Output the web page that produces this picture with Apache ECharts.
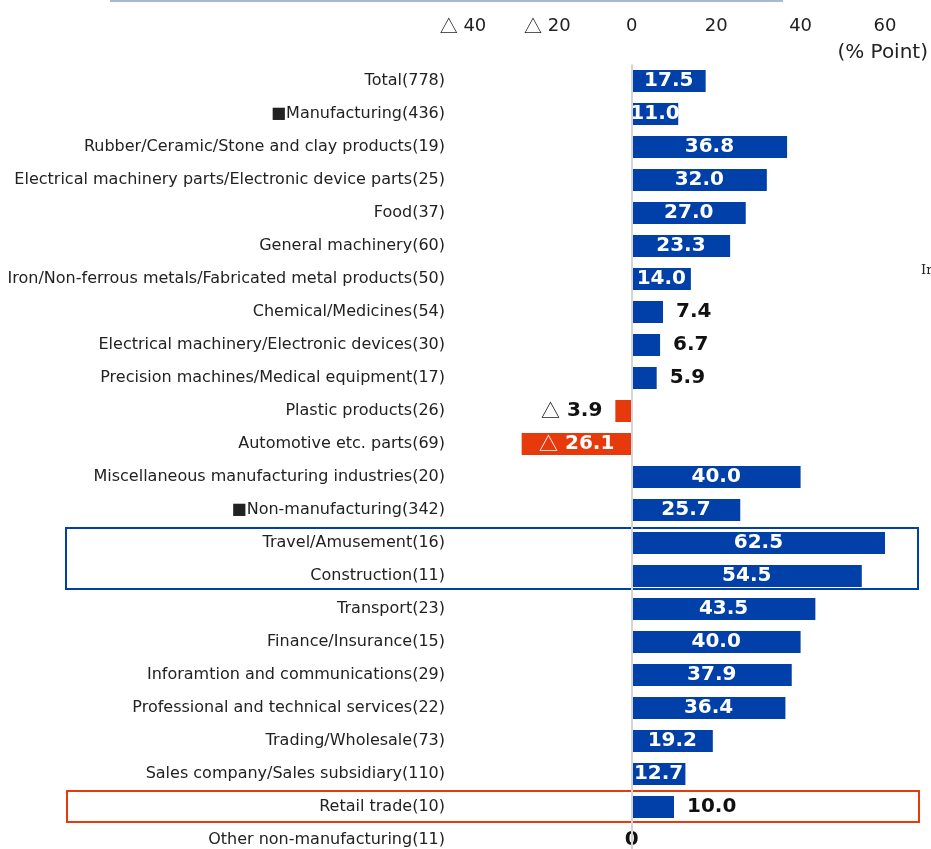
<!DOCTYPE html>
<html>
<head>
<meta charset="utf-8">
<script src="https://cdn.jsdelivr.net/npm/echarts@6/dist/echarts.min.js"></script>
<style>
  html, body { margin: 0; padding: 0; background: #fff; }
  #chart { width: 931px; height: 849px; }
</style>
</head>
<body>
<div id="chart"></div>
<script>
const categories = [
  'Total(778)',
  '■Manufacturing(436)',
  'Rubber/Ceramic/Stone and clay products(19)',
  'Electrical machinery parts/Electronic device parts(25)',
  'Food(37)',
  'General machinery(60)',
  'Iron/Non-ferrous metals/Fabricated metal products(50)',
  'Chemical/Medicines(54)',
  'Electrical machinery/Electronic devices(30)',
  'Precision machines/Medical equipment(17)',
  'Plastic products(26)',
  'Automotive etc. parts(69)',
  'Miscellaneous manufacturing industries(20)',
  '■Non-manufacturing(342)',
  'Travel/Amusement(16)',
  'Construction(11)',
  'Transport(23)',
  'Finance/Insurance(15)',
  'Inforamtion and communications(29)',
  'Professional and technical services(22)',
  'Trading/Wholesale(73)',
  'Sales company/Sales subsidiary(110)',
  'Retail trade(10)',
  'Other non-manufacturing(11)'
];
const values = [
  17.5, 11.0, 36.8, 32.0, 27.0, 23.3, 14.0, 7.4, 6.7, 5.9, -3.9, -26.1, 40.0,
  25.7, 62.5, 54.5, 43.5, 40.0, 37.9, 36.4, 19.2, 12.7, 10.0, 0
];
const blueBox = ['Travel/Amusement(16)', 'Construction(11)'];
const redBox = ['Retail trade(10)'];

const BLUE = '#0040a8';
const RED = '#e63a0c';
const FONT = '"DejaVu Sans", Verdana, sans-serif';
const CJK = '"Noto Sans CJK JP", sans-serif';

function fmt(v) {
  if (v === 0) return '0';
  if (v < 0) return '{t|△}' + ' ' + (-v).toFixed(1);
  return v.toFixed(1);
}

const data = values.map(v => {
  const outside = v !== 0 && Math.abs(v) <= 10;
  const txtColor = (v === 0 || outside) ? '#111' : '#fff';
  return {
    value: v,
    itemStyle: { color: v < 0 ? RED : BLUE },
    label: {
      show: true,
      position: v === 0 ? 'inside' : (outside ? (v > 0 ? 'right' : 'left') : 'inside'),
      distance: 13,
      color: txtColor,
      formatter: () => fmt(v),
      rich: { t: { fontSize: 19, fontWeight: 'normal', color: txtColor, fontFamily: CJK } }
    }
  };
});

const chart = echarts.init(document.getElementById('chart'));
chart.setOption({
  animation: false,
  textStyle: { fontFamily: FONT },
  grid: { left: 463, right: 46, top: 64.5, height: 792, containLabel: false, outerBoundsMode: 'none' },
  xAxis: {
    type: 'value',
    position: 'top',
    min: -40,
    max: 60,
    interval: 20,
    axisLine: { show: false },
    axisTick: { show: false },
    splitLine: { show: false },
    axisLabel: {
      margin: 29,
      fontSize: 18,
      color: '#222',
      fontFamily: FONT,
      formatter: v => (v < 0 ? '{t|△} ' + (-v) : String(v)),
      rich: { t: { fontSize: 18, color: '#222', fontFamily: CJK } }
    }
  },
  yAxis: {
    type: 'category',
    inverse: true,
    data: categories,
    axisLine: { show: false },
    axisTick: { show: false },
    axisLabel: { margin: 18, fontSize: 16, color: '#222', fontFamily: FONT, padding: [0, 0, 4, 0] }
  },
  series: [{
    type: 'bar',
    data: data,
    barWidth: 22,
    label: { show: true, fontSize: 20, fontWeight: 'bold', fontFamily: FONT },
    markLine: {
      silent: true,
      symbol: 'none',
      label: { show: false },
      lineStyle: { color: '#d4d4d4', type: 'solid', width: 2 },
      data: [{ xAxis: 0 }]
    }
  }]
});

// annotation boxes placed from the category positions
function rowY(name) { return chart.convertToPixel({ yAxisIndex: 0 }, name); }
const b1 = rowY(blueBox[0]) - 15, b2 = rowY(blueBox[blueBox.length - 1]) + 13;
const r1 = rowY(redBox[0]) - 16, r2 = rowY(redBox[0]) + 15;

chart.setOption({
  graphic: [
    { type: 'line', shape: { x1: 110, y1: 1, x2: 783, y2: 1 }, style: { stroke: '#a9b9d3', lineWidth: 2 } },
    { type: 'text', right: 3, top: 43, style: { text: '(% Point)', font: '20px ' + FONT, fill: '#222' } },
    { type: 'text', left: 921, top: 264, style: { text: 'Ir', font: '13px "DejaVu Serif", serif', fill: '#222' } },
    { type: 'rect', shape: { x: 66, y: b1, width: 852, height: b2 - b1 }, style: { fill: 'none', stroke: BLUE, lineWidth: 2 } },
    { type: 'rect', shape: { x: 67, y: r1, width: 852, height: r2 - r1 }, style: { fill: 'none', stroke: RED, lineWidth: 2 } }
  ]
});
</script>
</body>
</html>
